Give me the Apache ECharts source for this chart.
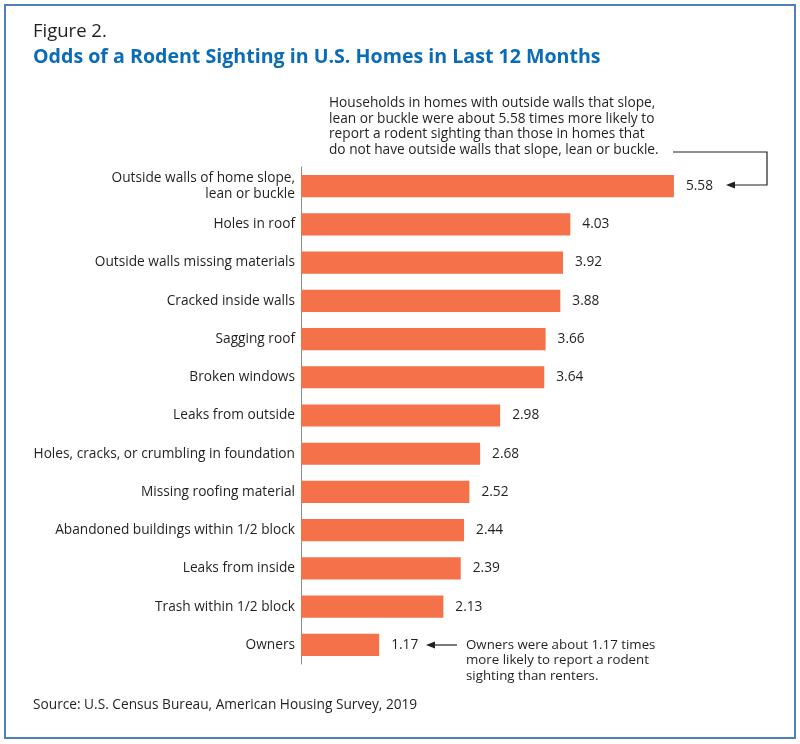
<!DOCTYPE html>
<html>
<head>
<meta charset="utf-8">
<script src="https://cdn.jsdelivr.net/npm/echarts@6/dist/echarts.min.js"></script>
<style>
  html, body { margin: 0; padding: 0; background: #fff; }
  #chart { width: 800px; height: 744px; }
</style>
</head>
<body>
<div id="chart"></div>
<script>
// categories, top to bottom
var categories = [
  "Outside walls of home slope,\nlean or buckle",
  "Holes in roof",
  "Outside walls missing materials",
  "Cracked inside walls",
  "Sagging roof",
  "Broken windows",
  "Leaks from outside",
  "Holes, cracks, or crumbling in foundation",
  "Missing roofing material",
  "Abandoned buildings within 1/2 block",
  "Leaks from inside",
  "Trash within 1/2 block",
  "Owners"
];
// odds ratios
var odds = [5.58, 4.03, 3.92, 3.88, 3.66, 3.64, 2.98, 2.68, 2.52, 2.44, 2.39, 2.13, 1.17];

var FONT = "Open Sans";
var TEXT = "#231f20";
var FS = 13.7;

var topNote = [
  "Households in homes with outside walls that slope,",
  "lean or buckle were about 5.58 times more likely to",
  "report a rodent sighting than those in homes that",
  "do not have outside walls that slope, lean or buckle."
].join("\n");
var ownersNote = [
  "Owners were about 1.17 times",
  "more likely to report a rodent",
  "sighting than renters."
].join("\n");

var myChart = echarts.init(document.getElementById("chart"), null, { renderer: "canvas" });

var option = {
  animation: false,
  textStyle: { fontFamily: FONT },
  grid: { left: 301, top: 167, width: 401, height: 497, containLabel: false },
  xAxis: {
    type: "value",
    min: 0,
    max: 6,
    show: false
  },
  yAxis: {
    type: "category",
    data: categories,
    inverse: true,
    axisLine: { show: true, lineStyle: { color: "#8c8c8c", width: 1 } },
    axisTick: { show: false },
    axisLabel: {
      margin: 6,
      fontSize: FS,
      lineHeight: 15.5,
      color: TEXT,
      fontFamily: FONT
    }
  },
  series: [
    {
      type: "bar",
      data: odds,
      barCategoryGap: "42%",
      itemStyle: { color: "#f4714a" },
      label: {
        show: true,
        position: "right",
        distance: 12,
        fontSize: FS,
        color: TEXT,
        fontFamily: FONT,
        formatter: function (p) { return p.value.toFixed(2); }
      }
    }
  ],
  graphic: [
    // frame
    {
      type: "rect",
      shape: { x: 5, y: 5, width: 790, height: 733 },
      style: { fill: "none", stroke: "#4f80bb", lineWidth: 2 }
    },
    {
      type: "text", left: 33, top: 22,
      style: { text: "Figure 2.", fontSize: 18.5, fill: TEXT, fontFamily: FONT }
    },
    {
      type: "text", left: 33, top: 47,
      style: {
        text: "Odds of a Rodent Sighting in U.S. Homes in Last 12 Months",
        fontSize: 19.6, fontWeight: "bold", fill: "#0b6cb6", fontFamily: FONT
      }
    },
    {
      type: "text", left: 329, top: 95,
      style: { text: topNote, fontSize: FS, lineHeight: 15.8, fill: TEXT, fontFamily: FONT }
    },
    // connector from note to the 5.58 bar
    {
      type: "polyline",
      shape: { points: [[673, 152], [767, 152], [767, 185], [733, 185]] },
      style: { stroke: "#231f20", lineWidth: 1.2, fill: "none" }
    },
    {
      type: "polygon",
      shape: { points: [[726, 185], [735, 181.5], [735, 188.5]] },
      style: { fill: "#231f20" }
    },
    // arrow to the owners bar
    {
      type: "line",
      shape: { x1: 433, y1: 645, x2: 457, y2: 645 },
      style: { stroke: "#231f20", lineWidth: 1.2 }
    },
    {
      type: "polygon",
      shape: { points: [[426, 645], [435, 641.5], [435, 648.5]] },
      style: { fill: "#231f20" }
    },
    {
      type: "text", left: 466, top: 637,
      style: { text: ownersNote, fontSize: 13.3, lineHeight: 15.5, fill: TEXT, fontFamily: FONT }
    },
    {
      type: "text", left: 33, top: 698,
      style: {
        text: "Source: U.S. Census Bureau, American Housing Survey, 2019",
        fontSize: FS, fill: TEXT, fontFamily: FONT
      }
    }
  ]
};

myChart.setOption(option);
</script>
</body>
</html>
